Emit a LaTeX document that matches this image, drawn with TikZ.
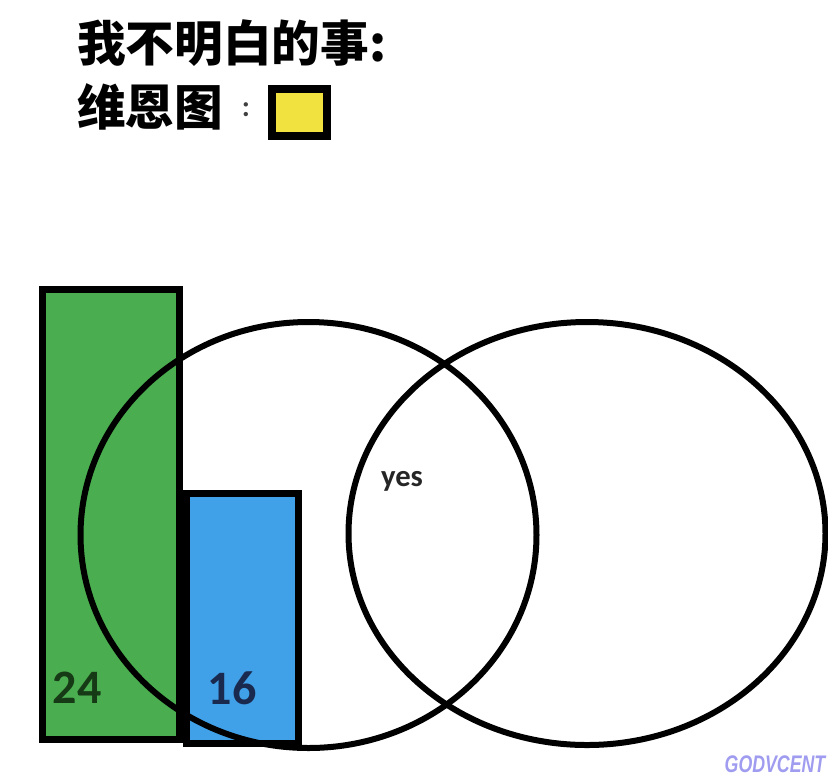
\documentclass[tikz,border=0pt]{standalone}
\usepackage{fontspec}
\setmainfont{Carlito}
\newfontfamily\cjk{Noto Sans CJK SC}
\newfontfamily\wmfont{Liberation Sans}
\definecolor{barGreen}{HTML}{4AAD4F}
\definecolor{barBlue}{HTML}{40A0E8}
\definecolor{legYellow}{HTML}{F2E240}
\definecolor{txtGreen}{HTML}{163A16}
\definecolor{txtBlue}{HTML}{1A2A4E}
\definecolor{wmColor}{HTML}{A09CF0}
\tikzset{
  barbox/.style={draw=black, line width=5.25pt, line join=miter},
  venn/.style={draw=black, line width=4.5pt},
  numlabel/.style={font=\bfseries\fontsize{36}{36}\selectfont, inner sep=0pt},
  cjktitle/.style={font=\cjk\bfseries\fontsize{36.5}{40}\selectfont, inner sep=0pt, anchor=west}
}
\begin{document}
\begin{tikzpicture}[x=0.75pt, y=-0.75pt]
\useasboundingbox (0,0) rectangle (828,776);
\fill[white] (0,0) rectangle (828,776);
% title
\node[cjktitle] (title) at (77,43) {我不明白的事:};
\node[cjktitle] (legend) at (77,107) {维恩图};
\node[inner sep=0pt, text=black!75, font=\bfseries\fontsize{22}{22}\selectfont] (colon) at (246,110) {:};
\draw[draw=black, line width=6pt, fill=legYellow] (272,89) rectangle (327,136);
\coordinate (legbox) at (299.5,112.5);
% bars
\draw[barbox, fill=barGreen] (42,289) rectangle (179.5,739);
\draw[barbox, fill=barBlue] (186.5,493.5) rectangle (298,743);
% venn circles
\draw[venn] (308.5,535) ellipse [x radius=228, y radius=213];
\draw[venn] (587,533.5) ellipse [x radius=238.5, y radius=211.5];
% labels
\node[numlabel, text=txtGreen] (n24) at (77,688) {24};
\node[numlabel, text=txtBlue] (n16) at (232,688) {16};
\node[inner sep=0pt, text=black!85, font=\bfseries\fontsize{23}{23}\selectfont] (yes) at (402,481) {yes};
% watermark
\node[inner sep=0pt, text=wmColor, xscale=0.74, font=\wmfont\bfseries\itshape\fontsize{18}{18}\selectfont] (wm) at (775,764) {GODVCENT};
\end{tikzpicture}
\end{document}
